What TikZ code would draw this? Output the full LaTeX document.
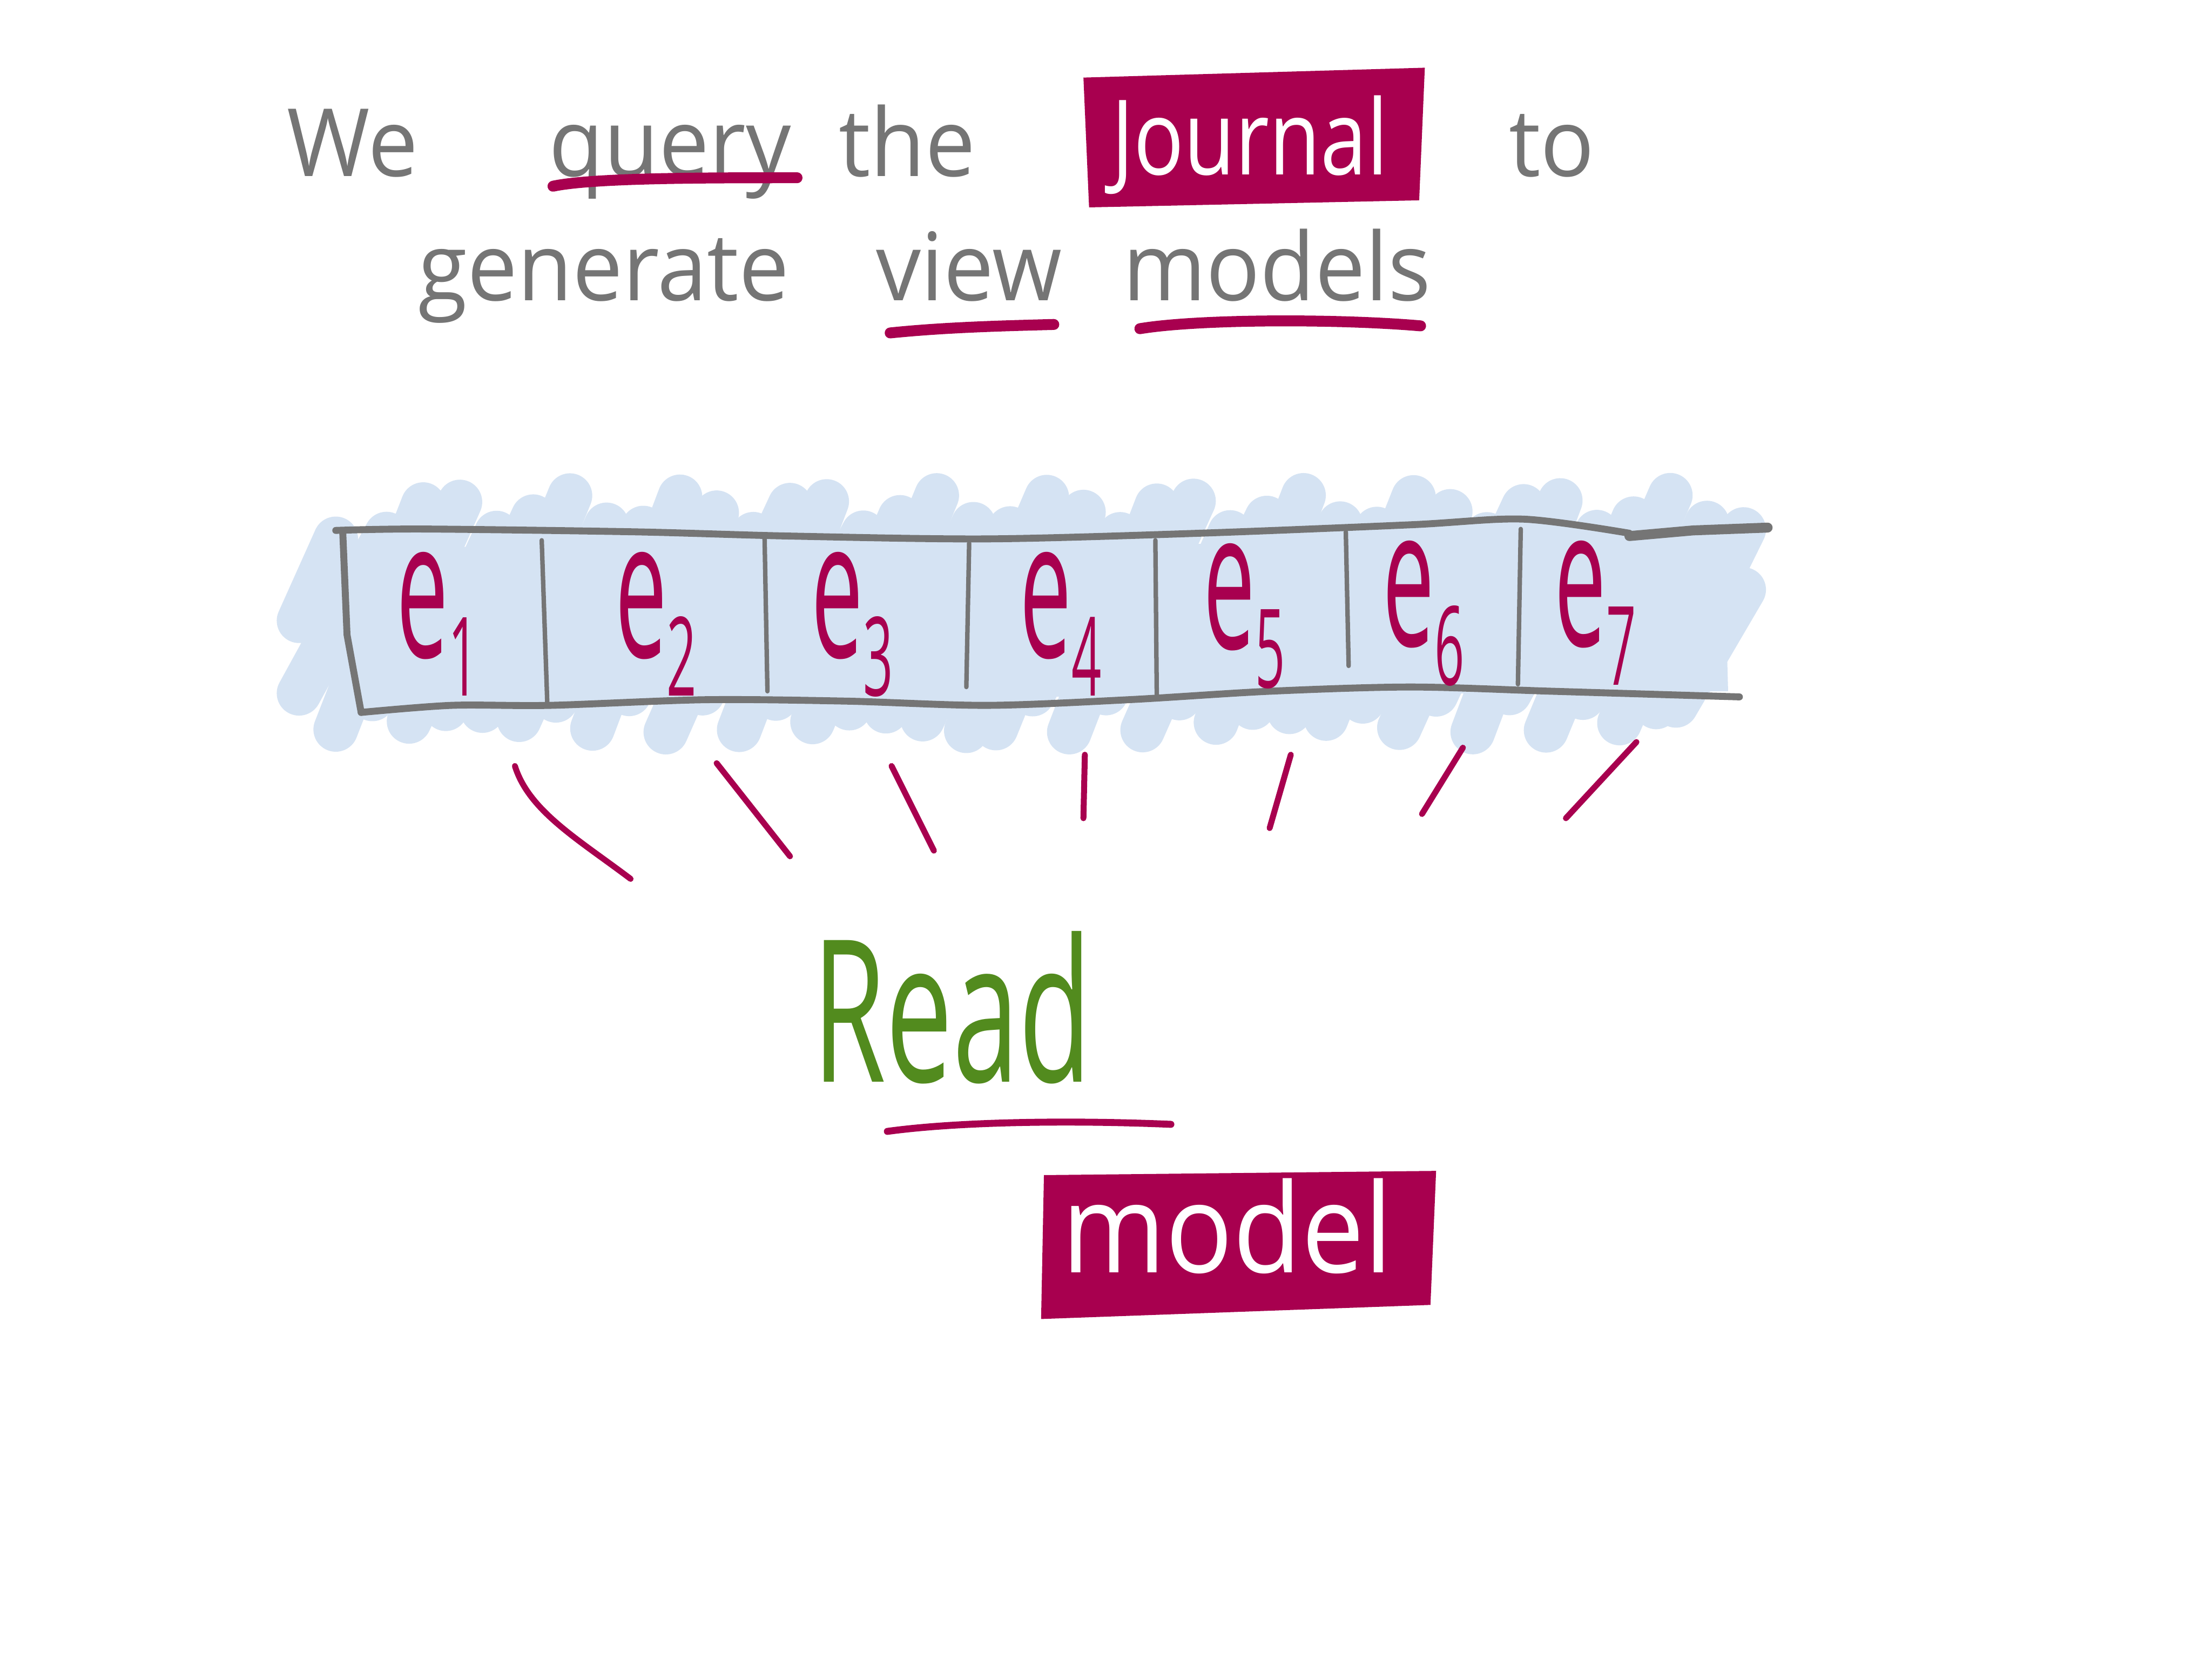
\documentclass[tikz,border=0pt]{standalone}
\usepackage{fontspec}
\setmainfont{Open Sans}
\definecolor{mag}{HTML}{A8004F}
\definecolor{gry}{HTML}{757575}
\definecolor{sky}{HTML}{D5E3F3}
\definecolor{grn}{HTML}{528B1E}
\newcommand{\evsub}[1]{\raisebox{-0.2em}{\fontsize{17}{17}\selectfont #1}}
\tikzset{
  word/.style={text=gry, font=\fontsize{19}{22}\selectfont, anchor=base, inner sep=0pt, xscale=0.95},
  boxword/.style={text=white, anchor=base, inner sep=0pt},
  evt/.style={text=mag, font=\fontsize{30}{30}\selectfont, anchor=base, inner sep=0pt, xscale=0.62, yscale=1.3},
  uline/.style={mag, line width=2.2pt, line cap=round},
  ray/.style={mag, line width=1.2pt, line cap=round},
  edge/.style={gry, line width=1.4pt, line cap=round, line join=round},
  divider/.style={gry, line width=0.9pt, line cap=round},
  scrib/.style={sky, line width=9pt, line cap=round}
}
\begin{document}
\begin{tikzpicture}[x=0.01cm, y=-0.01cm]
\useasboundingbox (0,0) rectangle (1568,1176);
\fill[white] (0,0) rectangle (1568,1176);

% ---- sentence ----
\node[word] (we) at (250,125) {We};
\node[word] (query) at (475,125) {query};
\node[word] (the) at (643,125) {the};
\fill[mag] (768,55) -- (1010,48) -- (1006,142) -- (772,147) -- cycle;
\node[boxword, font=\fontsize{21}{24}\selectfont, xscale=0.8] (journal) at (886,124) {Journal};
\node[word] (to) at (1100,125) {to};
\node[word] (generate) at (428,213) {generate};
\node[word] (view) at (687,213) {view};
\node[word] (models) at (905,213) {models};

\coordinate (qa) at (392,132); \coordinate (qb) at (565,126);
\draw[uline] (qa) .. controls (420,126) and (500,126) .. (qb);
\coordinate (va) at (631,236); \coordinate (vb) at (747,230);
\draw[uline] (va) .. controls (670,232) and (710,231) .. (vb);
\coordinate (ma) at (808,233); \coordinate (mb) at (1007,231);
\draw[uline] (ma) .. controls (850,226) and (950,226) .. (mb);

% ---- blue scribble ----
\fill[sky] (232,388) -- (1222,384) -- (1225,490) -- (238,498) -- cycle;
\foreach \x in {212,238,...,1180} {
  \pgfmathsetmacro{\ytop}{365-14*sin(\x*9.7)}
  \pgfmathsetmacro{\ybot}{505+14*sin(\x*6.3)}
  \draw[scrib] (\x,\ybot) -- (\x+62,\ytop);
}
\draw[scrib] (212,440) -- (238,382);
\draw[scrib] (1188,500) -- (1236,418);
\draw[scrib] (685,518) -- (722,460);

% ---- strip ----
\draw[edge] plot[smooth] coordinates {(238,376) (300,375) (450,377) (560,380) (700,382) (850,378) (1000,372) (1080,368) (1155,378)};
\draw[edge, line width=2pt] (1155,380) -- (1200,376) -- (1253,374);
\draw[edge] (243,378) -- (246,450) -- (256,505);
\draw[edge] plot[smooth] coordinates {(256,505) (320,500) (390,500) (500,496) (600,497) (700,500) (800,496) (900,490) (1000,487) (1100,490) (1233,494)};
\draw[divider] (384,383) -- (388,500);
\draw[divider] (542,382) -- (544,490);
\draw[divider] (687,385) -- (685,487);
\draw[divider] (819,383) -- (820,495);
\draw[divider] (954,377) -- (956,472);
\draw[divider] (1078,375) -- (1076,485);

\node[evt] (e1) at (310,466) {e\evsub{1}};
\node[evt] (e2) at (465,466) {e\evsub{2}};
\node[evt] (e3) at (604,466) {e\evsub{3}};
\node[evt] (e4) at (752,466) {e\evsub{4}};
\node[evt] (e5) at (882,460) {e\evsub{5}};
\node[evt] (e6) at (1009,458) {e\evsub{6}};
\node[evt] (e7) at (1131,458) {e\evsub{7}};

% ---- rays ----
\coordinate (r1a) at (365,543); \coordinate (r1b) at (447,623);
\draw[ray] (r1a) .. controls (375,575) and (410,595) .. (r1b);
\coordinate (r2a) at (508,541); \coordinate (r2b) at (560,607);
\draw[ray] (r2a) -- (r2b);
\coordinate (r3a) at (632,543); \coordinate (r3b) at (662,603);
\draw[ray] (r3a) -- (r3b);
\coordinate (r4a) at (769,535); \coordinate (r4b) at (768,580);
\draw[ray] (r4a) -- (r4b);
\coordinate (r5a) at (915,535); \coordinate (r5b) at (900,587);
\draw[ray] (r5a) -- (r5b);
\coordinate (r6a) at (1037,530); \coordinate (r6b) at (1008,577);
\draw[ray] (r6a) -- (r6b);
\coordinate (r7a) at (1160,526); \coordinate (r7b) at (1110,580);
\draw[ray] (r7a) -- (r7b);

% ---- read model ----
\node[anchor=base, inner sep=0pt, text=grn, font=\fontsize{40}{44}\selectfont, xscale=0.6] (read) at (675,767) {Read};
\coordinate (ra) at (629,802); \coordinate (rb) at (830,797);
\draw[mag, line width=1.4pt, line cap=round] (ra) .. controls (680,795) and (760,794) .. (rb);

\fill[mag] (740,833) -- (1018,830) -- (1014,925) -- (738,935) -- cycle;
\node[boxword, font=\fontsize{25}{28}\selectfont, xscale=0.9] (model) at (870,902) {model};
\end{tikzpicture}
\end{document}
